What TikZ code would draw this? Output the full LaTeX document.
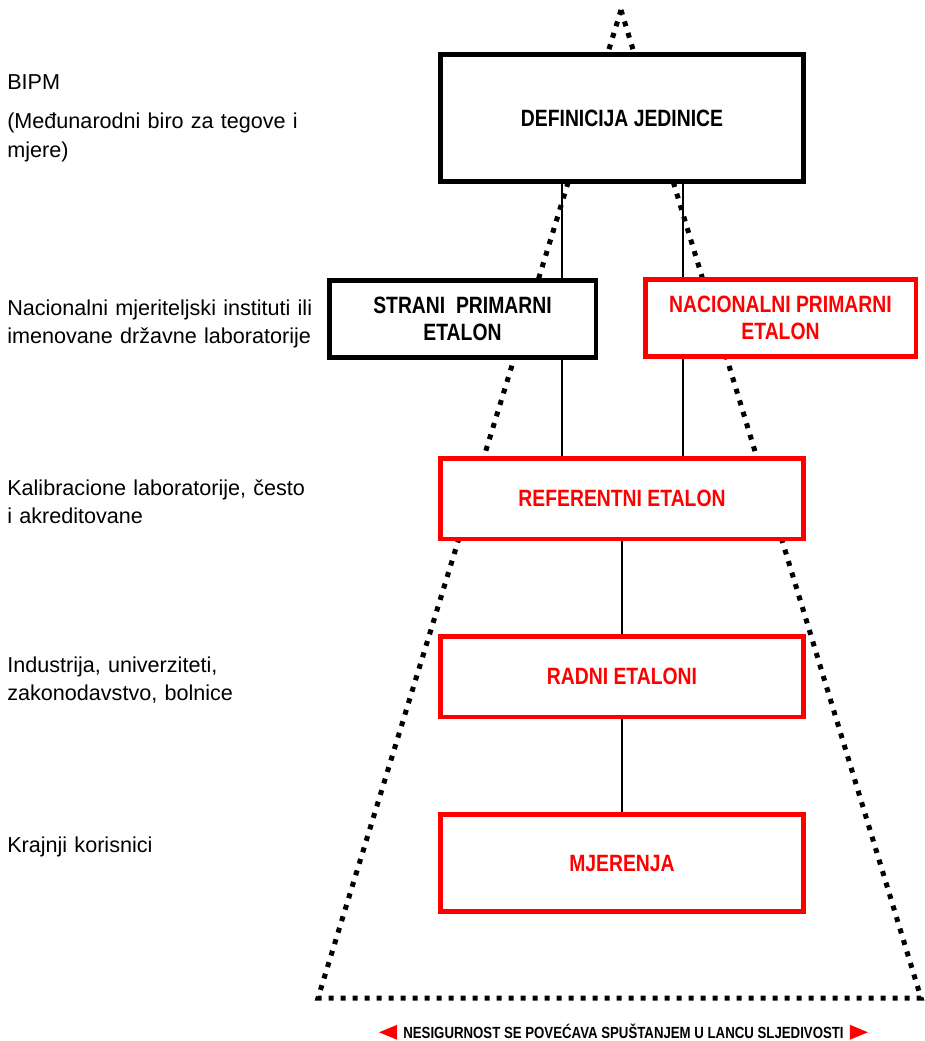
\documentclass[tikz,border=0pt]{standalone}
\usepackage{fontspec}
\setmainfont{Liberation Sans}
\newfontfamily\narrowbold[FakeStretch=0.82]{Liberation Sans Bold}
\usetikzlibrary{positioning}
\definecolor{etalonred}{RGB}{255,0,0}
\tikzset{
  box/.style={draw, line width=3.4pt, fill=white, inner sep=0pt,
    minimum width=272.6pt, align=center,
    font=\fontsize{17.7pt}{20.3pt}\narrowbold},
  redbox/.style={box, draw=etalonred, text=etalonred},
  level/.style={anchor=base west, inner sep=0pt, text width=250pt,
    align=left, font=\fontsize{16.2pt}{21.6pt}\selectfont},
  link/.style={line width=1.3pt},
  trace/.style={line width=3.75pt, dash pattern=on 3.75pt off 5.25pt},
}
\begin{document}
\begin{tikzpicture}[x=0.75pt,y=-0.75pt]
  \useasboundingbox (0,0) rectangle (924,1041);
  % traceability cone
  \coordinate (apex) at (621,10);
  \coordinate (coneL) at (318,998);
  \coordinate (coneR) at (921,998);
  \draw[trace] (apex) -- (coneL) -- (coneR) -- cycle;

  % standards
  \node[box, minimum height=95.6pt] (def) at (622,118) {DEFINICIJA JEDINICE};
  \node[box, minimum width=199.9pt, minimum height=58.1pt] (foreign) at (462.5,319)
    {STRANI\ \ PRIMARNI\\ETALON};
  \node[redbox, minimum width=202.9pt, minimum height=58.1pt] (national) at (780.5,318)
    {NACIONALNI PRIMARNI\\ETALON};
  \node[redbox, minimum height=60.4pt] (reference) at (622,498.5) {REFERENTNI ETALON};
  \node[redbox, minimum height=60.4pt] (working) at (622,676.5) {RADNI ETALONI};
  \node[redbox, minimum height=73.1pt] (measure) at (622,863) {MJERENJA};

  \coordinate (tapL) at ([xshift=-45pt]def.south);
  \coordinate (tapR) at ([xshift=45.75pt]def.south);
  \path[draw,link]
    (tapL) -- (tapL |- foreign.north)
    (tapL |- foreign.south) -- (tapL |- reference.north)
    (tapR) -- (tapR |- national.north)
    (tapR |- national.south) -- (tapR |- reference.north)
    (reference) edge (working)
    (working) edge (measure);

  % levels
  \node[level] (bipm) at (7,90) {BIPM};
  \node[level] (bipmfull) at (7,129) {(Međunarodni biro za tegove i\\mjere)};
  \node[level] (nmi) at (7,315) {Nacionalni mjeriteljski instituti ili\\imenovane državne laboratorije};
  \node[level] (calib) at (7,495) {Kalibracione laboratorije, često\\i akreditovane};
  \node[level] (industry) at (7,672) {Industrija, univerziteti,\\zakonodavstvo, bolnice};
  \node[level] (users) at (7,852) {Krajnji korisnici};

  % uncertainty note
  \node[anchor=base, inner sep=0pt, font=\fontsize{12.1pt}{14pt}\narrowbold] (note) at (623.5,1038)
    {NESIGURNOST SE POVEĆAVA SPUŠTANJEM U LANCU SLJEDIVOSTI};
  \fill[etalonred] ([xshift=-4.5pt,yshift=4.3pt]note.base west) -- ++(0,5.6pt)
    -- ++(-13.5pt,-5.6pt) -- ++(13.5pt,-5.6pt) -- cycle;
  \fill[etalonred] ([xshift=4.5pt,yshift=4.3pt]note.base east) -- ++(0,5.6pt)
    -- ++(13.5pt,-5.6pt) -- ++(-13.5pt,-5.6pt) -- cycle;
\end{tikzpicture}
\end{document}
